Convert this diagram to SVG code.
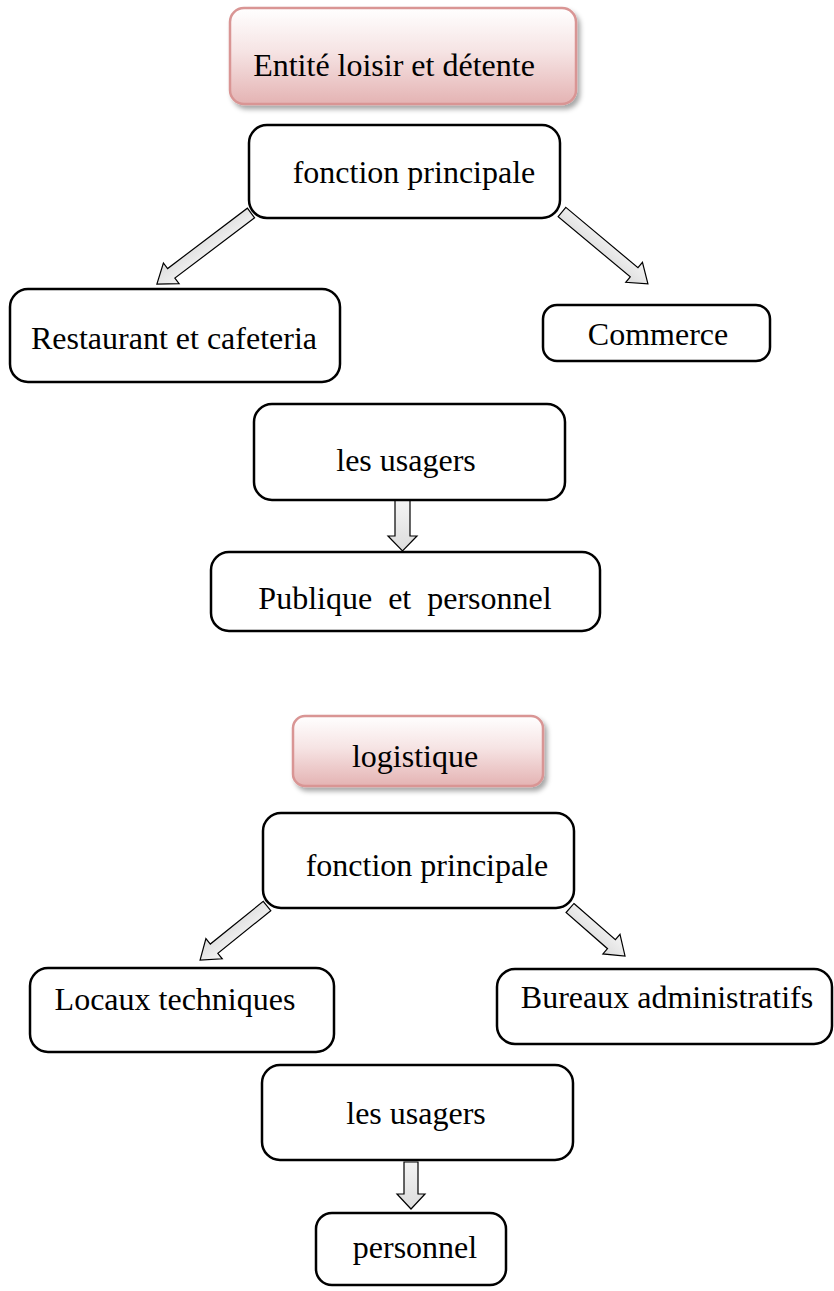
<svg xmlns="http://www.w3.org/2000/svg" width="834" height="1291" viewBox="0 0 834 1291">
<defs>
<linearGradient id="pink" x1="0" y1="0" x2="0" y2="1">
<stop offset="0" stop-color="#ffffff"/>
<stop offset="0.45" stop-color="#f6e4e4"/>
<stop offset="1" stop-color="#e4b3b3"/>
</linearGradient>
<linearGradient id="grey" x1="0" y1="0" x2="0" y2="1">
<stop offset="0" stop-color="#f4f4f4"/>
<stop offset="1" stop-color="#dcdcdc"/>
</linearGradient>
<filter id="sh" x="-10%" y="-10%" width="125%" height="140%">
<feDropShadow dx="3" dy="4" stdDeviation="2.5" flood-color="#000" flood-opacity="0.35"/>
</filter>
<style>
.box{fill:#fff;stroke:#000;stroke-width:2.5}
.pbox{fill:url(#pink);stroke:#d99594;stroke-width:2.5;filter:url(#sh)}
.arr{fill:url(#grey);stroke:#000;stroke-width:1.2;stroke-linejoin:miter}
text{font-family:"Liberation Serif","Times New Roman",serif;font-size:32px;fill:#000;text-anchor:middle;white-space:pre}
</style>
</defs>
<g id="connectors">
<polygon class="arr" transform="translate(251,213) rotate(142.9)" points="0,-6 100,-6 100,-13 118,0 100,13 100,6 0,6"/>
<polygon class="arr" transform="translate(562,212) rotate(39.9)" points="0,-6 94,-6 94,-13 112,0 94,13 94,6 0,6"/>
<polygon class="arr" points="395,500 410,500 410,536 417,536 402.5,551 388,536 395,536"/>
<polygon class="arr" transform="translate(267,906) rotate(141.1)" points="0,-6 68,-6 68,-13 86,0 68,13 68,6 0,6"/>
<polygon class="arr" transform="translate(570,908) rotate(41.1)" points="0,-6 55,-6 55,-13 73,0 55,13 55,6 0,6"/>
<polygon class="arr" points="404,1162 418,1162 418,1194 425,1194 411,1209 397,1194 404,1194"/>
</g>
<g id="n_title1"><rect class="pbox" x="230" y="8" width="346" height="96" rx="14"/><text x="394" y="76">Entité loisir et détente</text></g>
<g id="n_fonction1"><rect class="box" x="249" y="125" width="311" height="93" rx="18"/><text x="414" y="183">fonction principale</text></g>
<g id="n_restaurant"><rect class="box" x="10" y="289" width="330" height="93" rx="18"/><text x="174" y="349">Restaurant et cafeteria</text></g>
<g id="n_commerce"><rect class="box" x="543" y="305" width="227" height="56" rx="14"/><text x="658" y="345">Commerce</text></g>
<g id="n_usagers1"><rect class="box" x="254" y="404" width="311" height="96" rx="18"/><text x="406" y="471">les usagers</text></g>
<g id="n_publique"><rect class="box" x="211" y="552" width="389" height="79" rx="18"/><text x="405" y="609">Publique  et  personnel</text></g>
<g id="n_title2"><rect class="pbox" x="293" y="716" width="250" height="70" rx="12"/><text x="415" y="767">logistique</text></g>
<g id="n_fonction2"><rect class="box" x="263" y="813" width="311" height="95" rx="18"/><text x="427" y="876">fonction principale</text></g>
<g id="n_locaux"><rect class="box" x="30" y="968" width="304" height="84" rx="18"/><text x="175" y="1010">Locaux techniques</text></g>
<g id="n_bureaux"><rect class="box" x="497" y="969" width="335" height="75" rx="18"/><text x="667" y="1008">Bureaux administratifs</text></g>
<g id="n_usagers2"><rect class="box" x="262" y="1065" width="311" height="95" rx="18"/><text x="416" y="1124">les usagers</text></g>
<g id="n_personnel"><rect class="box" x="316" y="1213" width="190" height="72" rx="16"/><text x="415" y="1258">personnel</text></g>
</svg>
